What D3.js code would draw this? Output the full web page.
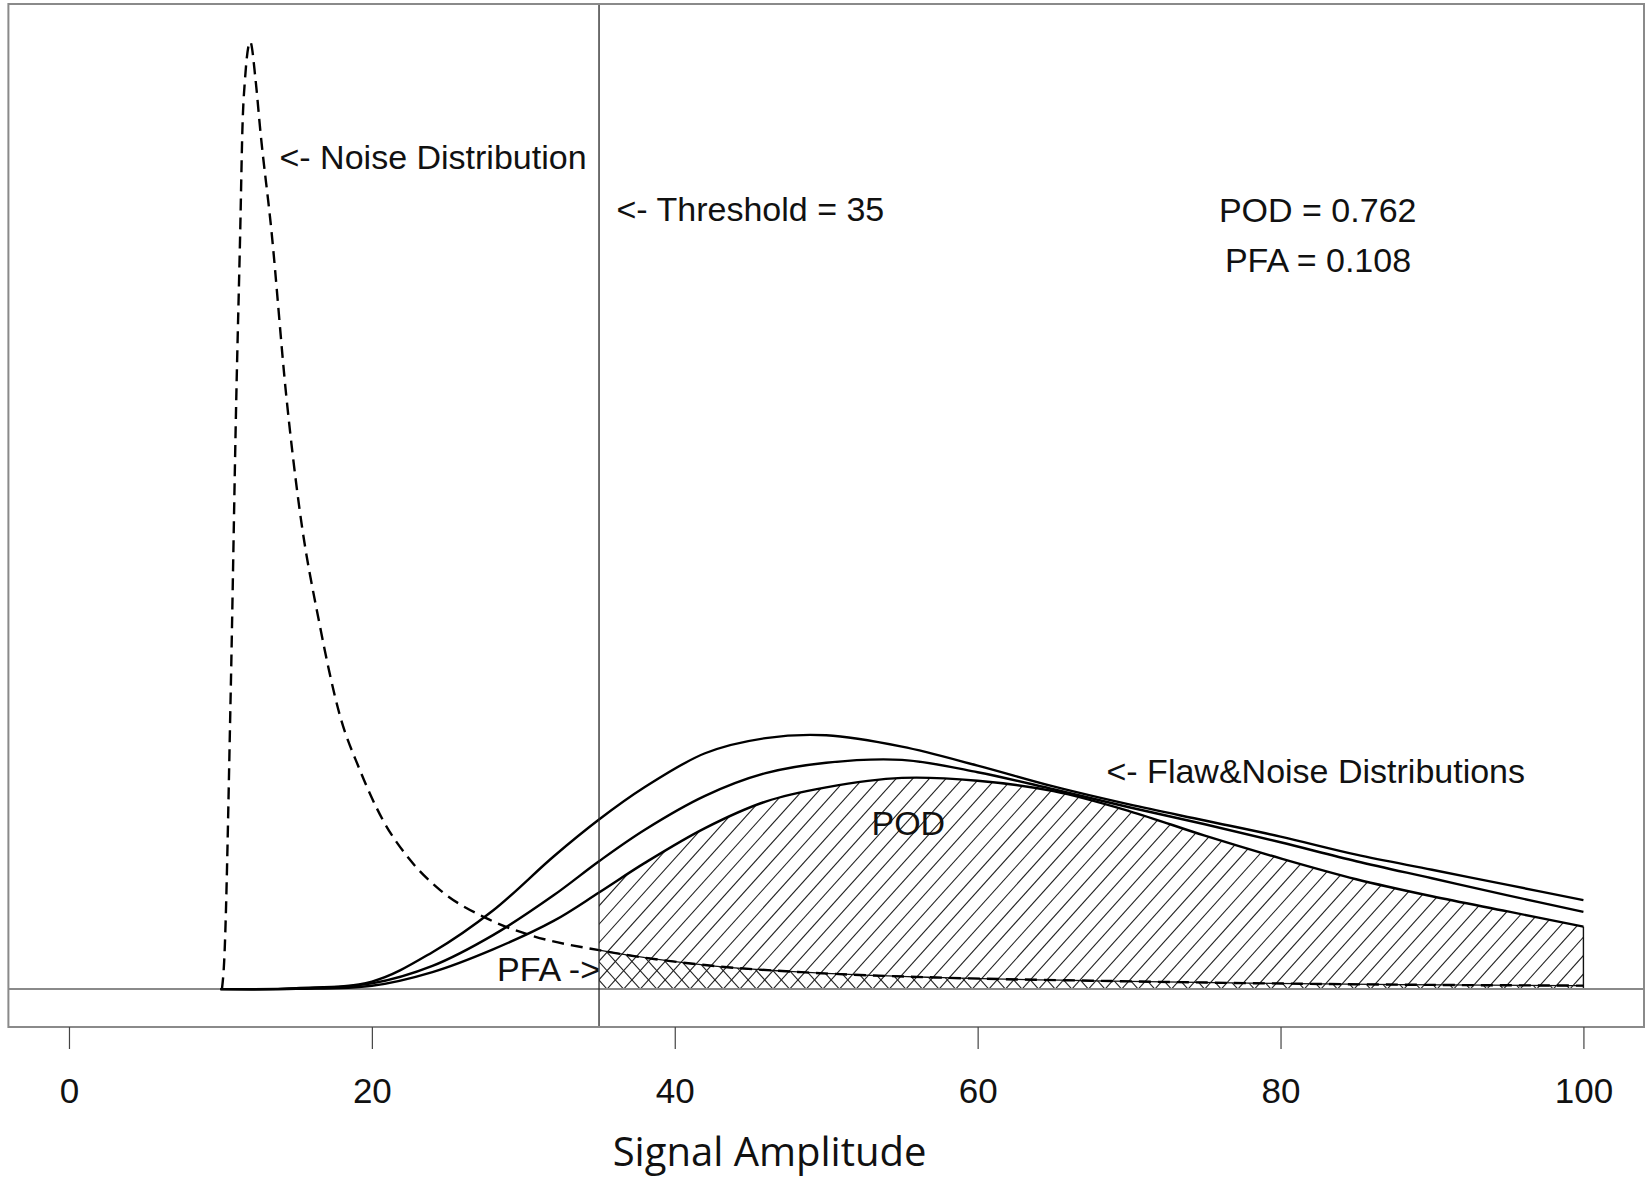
<!DOCTYPE html>
<html><head><meta charset="utf-8">
<script src="https://cdn.jsdelivr.net/npm/d3@7"></script>
<style>
html,body{margin:0;padding:0;background:#fff;}
svg{display:block;}
</style></head><body>
<svg id="chart" width="1646" height="1177"></svg>
<script>
// ---------------- data ----------------
const xTicks = [0, 20, 40, 60, 80, 100];
const threshold = 35;
const podValue = 0.762;
const pfaValue = 0.108;

// noise distribution (dashed), relative density (peak = 100)
const noiseX = [10.1, 10.25, 10.67, 11.05, 11.31, 11.45, 11.62, 11.97, 12.32, 12.63, 13.36, 14.35, 15.23, 16.55, 17.87, 19.19, 20.71, 22.49, 24.47, 27.55, 30.61, 35, 42.46, 48.35, 57.19, 67.77, 77.93, 87.83, 100];
const noiseY = [0, 3, 30.6, 62.6, 80.2, 90.7, 96.0, 100, 96.0, 90.7, 80.2, 62.6, 50.6, 38.5, 29.0, 23.2, 17.9, 13.7, 10.5, 7.49, 5.62, 4.11, 2.46, 1.79, 1.23, 0.88, 0.63, 0.47, 0.37];

// flaw & noise distributions (solid), same relative scale
const flawX = [10, 15, 20, 24, 28, 32, 35, 38, 42, 46, 50, 55, 60, 65, 70, 75, 80, 85, 90, 95, 100];
const flawA = [0, 0.1, 0.8, 3.9, 8.3, 14.0, 17.9, 21.3, 24.9, 26.5, 26.8, 25.6, 23.6, 21.4, 19.5, 17.8, 16.1, 14.2, 12.6, 11.0, 9.4];
const flawB = [0, 0.05, 0.6, 2.45, 5.7, 9.9, 13.5, 16.8, 20.4, 22.8, 23.9, 24.2, 22.9, 21.1, 19.2, 17.4, 15.5, 13.5, 11.7, 9.9, 8.15];
const flawC = [0, 0.03, 0.35, 1.8, 4.2, 7.2, 10.2, 13.3, 17.0, 19.8, 21.3, 22.3, 22.0, 20.9, 18.8, 16.2, 13.8, 11.6, 9.8, 8.2, 6.6]; // POD curve

const axisTitle = "Signal Amplitude";

// ---------------- layout ----------------
const box = {left: 8.4, right: 1644, top: 4, bottom: 1027};
const svg = d3.select("#chart");
svg.append("rect").attr("width", 1646).attr("height", 1177).attr("fill", "#fff");

const x = d3.scaleLinear().domain([-4, 104]).range([box.left, box.right]);
const yMax = d3.max(noiseY);
const y = d3.scaleLinear().domain([-0.04 * yMax, 1.04 * yMax]).range([box.bottom, box.top]);

const noise = noiseX.map((v, i) => [v, noiseY[i]]);
const curveA = flawX.map((v, i) => [v, flawA[i]]);
const curveB = flawX.map((v, i) => [v, flawB[i]]);
const curveC = flawX.map((v, i) => [v, flawC[i]]);

const smooth = d3.curveCatmullRom.alpha(0.5);
const noiseLine = d3.line().x(d => x(d[0])).y(d => y(d[1])).curve(d3.curveMonotoneX);
const noiseArea = d3.area().x(d => x(d[0])).y0(y(0)).y1(d => y(d[1])).curve(d3.curveMonotoneX);
const flawLine = d3.line().x(d => x(d[0])).y(d => Math.min(y(d[1]), y(0))).curve(smooth);
const flawArea = d3.area().x(d => x(d[0])).y0(y(0)).y1(d => y(d[1])).curve(smooth);

const defs = svg.append("defs");
defs.append("clipPath").attr("id", "clipRange").append("rect")
  .attr("x", x(threshold)).attr("y", box.top)
  .attr("width", x(100) - x(threshold)).attr("height", y(0) - box.top);
defs.append("clipPath").attr("id", "clipPOD").append("path").attr("d", flawArea(curveC));
defs.append("clipPath").attr("id", "clipPFA").append("path").attr("d", noiseArea(noise));

// hatch generator
function hatchLines(g, dir, spacing, angleDeg, color) {
  const k = Math.tan(angleDeg * Math.PI / 180);
  const baseY = y(0), topY = box.top;
  const dx = (baseY - topY) / k;
  const x0 = x(threshold), x1 = x(100);
  const phase = 8;
  const n0 = Math.floor(-(dx + 20) / spacing), n1 = Math.ceil((x1 - x0 + dx + 20) / spacing);
  for (let n = n0; n <= n1; n++) {
    const bx = x0 + phase + n * spacing;
    g.append("line")
      .attr("x1", bx).attr("y1", baseY)
      .attr("x2", bx + dir * dx).attr("y2", topY)
      .attr("stroke", color).attr("stroke-width", 1.1);
  }
}

const hatchG = svg.append("g").attr("clip-path", "url(#clipRange)");
hatchLines(hatchG.append("g").attr("clip-path", "url(#clipPOD)"), 1, 16.6, 48, "#222");
hatchLines(hatchG.append("g").attr("clip-path", "url(#clipPFA)"), -1, 16.6, 48, "#222");
// PFA polygon top border (thin solid)
hatchG.append("path").attr("d", noiseLine(noise)).attr("fill", "none")
  .attr("stroke", "#111").attr("stroke-width", 1.3);

// right edge of the shaded polygons
svg.append("line")
  .attr("x1", x(100)).attr("x2", x(100))
  .attr("y1", y(0)).attr("y2", y(flawC[flawC.length - 1]))
  .attr("stroke", "#111").attr("stroke-width", 1.4);

// baseline
svg.append("line")
  .attr("x1", box.left).attr("x2", box.right)
  .attr("y1", y(0)).attr("y2", y(0))
  .attr("stroke", "#8a8a8a").attr("stroke-width", 2);

// flaw curves
[curveA, curveB, curveC].forEach(c => {
  svg.append("path").attr("d", flawLine(c)).attr("fill", "none")
    .attr("stroke", "#000").attr("stroke-width", 2.4).attr("stroke-linejoin", "round");
});

// noise curve (dashed)
svg.append("path").attr("d", noiseLine(noise)).attr("fill", "none")
  .attr("stroke", "#000").attr("stroke-width", 2.4)
  .attr("stroke-dasharray", "12,7");

// threshold line
svg.append("line")
  .attr("x1", x(threshold)).attr("x2", x(threshold))
  .attr("y1", box.top).attr("y2", box.bottom)
  .attr("stroke", "#222").attr("stroke-width", 1.3);

// plot box
svg.append("rect")
  .attr("x", box.left).attr("y", box.top)
  .attr("width", box.right - box.left).attr("height", box.bottom - box.top)
  .attr("fill", "none").attr("stroke", "#8a8a8a").attr("stroke-width", 2);

// x axis
const axis = svg.append("g")
  .attr("transform", `translate(0,${box.bottom})`)
  .call(d3.axisBottom(x).tickValues(xTicks).tickSize(22).tickPadding(29).tickFormat(d3.format("d")));
axis.select(".domain").remove();
axis.selectAll(".tick line").attr("stroke", "#444").attr("stroke-width", 1.2);
axis.selectAll(".tick text")
  .attr("font-family", "'Liberation Sans', Arial, sans-serif")
  .attr("font-size", 35).attr("fill", "#111");

svg.append("text")
  .attr("x", 769.5).attr("y", 1166)
  .attr("text-anchor", "middle")
  .attr("font-family", "'Open Sans', sans-serif")
  .attr("font-size", 40).attr("fill", "#111")
  .text(axisTitle);

// annotations
const font = "'Liberation Sans', Arial, sans-serif";
function label(txt, px, py, anchor) {
  svg.append("text").attr("x", px).attr("y", py)
    .attr("text-anchor", anchor || "start")
    .attr("font-family", font).attr("font-size", 34).attr("fill", "#111")
    .text(txt);
}
label("<- Noise Distribution", 279.5, 168.5);
label("<- Threshold = " + threshold, 616.5, 220.5);
label("POD = " + podValue.toFixed(3), 1317.7, 221.5, "middle");
label("PFA = " + pfaValue.toFixed(3), 1318, 271.5, "middle");
label("<- Flaw&Noise Distributions", 1106.5, 783.3);
label("POD", 908.3, 835, "middle");
label("PFA ->", 600, 980.5, "end");
</script>
</body></html>
